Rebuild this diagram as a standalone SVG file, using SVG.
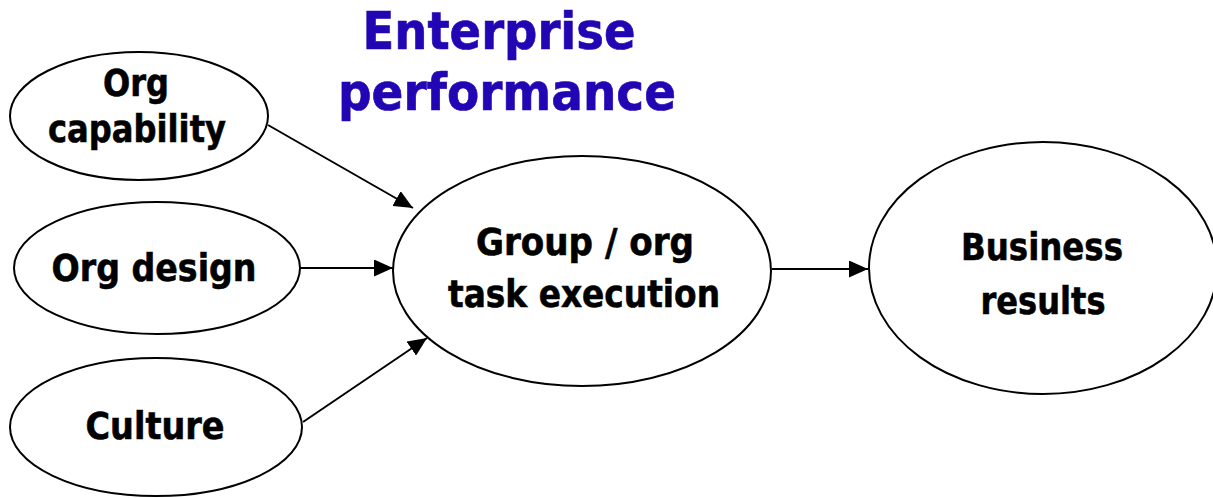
<svg xmlns="http://www.w3.org/2000/svg" width="1213" height="498" viewBox="0 0 1213 498">
<style>
.node ellipse{fill:#fff;stroke:#000;stroke-width:2}
.lbl{font-family:"DejaVu Sans","Liberation Sans",sans-serif;font-weight:bold;font-size:37px;fill:#000;stroke:#000;stroke-width:0.6;text-anchor:middle}
.title{font-family:"DejaVu Sans","Liberation Sans",sans-serif;font-weight:bold;font-size:52px;fill:#2206B4;stroke:#2206B4;stroke-width:0.7;text-anchor:middle}
.edge{stroke:#000;stroke-width:2;fill:none;marker-end:url(#arr)}
</style>
<defs>
<marker id="arr" markerUnits="userSpaceOnUse" markerWidth="19" markerHeight="17" refX="19" refY="8.5" orient="auto">
<path d="M0,0 L19,8.5 L0,17 z" fill="#000"/>
</marker>
</defs>
<rect width="1213" height="498" fill="#fff"/>
<g id="title">
<text class="title" x="499" y="49" textLength="273" lengthAdjust="spacingAndGlyphs">Enterprise</text>
<text class="title" x="507" y="110" textLength="338" lengthAdjust="spacingAndGlyphs">performance</text>
</g>
<g id="edges">
<line class="edge" x1="268" y1="125" x2="413" y2="208"/>
<line class="edge" x1="300" y1="268" x2="393" y2="268"/>
<line class="edge" x1="303" y1="422" x2="427" y2="338"/>
<line class="edge" x1="772" y1="269" x2="868" y2="269"/>
</g>
<g id="org-capability" class="node">
<ellipse cx="139" cy="116" rx="129" ry="64"/>
<text class="lbl" x="136" y="96" textLength="66" lengthAdjust="spacingAndGlyphs">Org</text>
<text class="lbl" x="137" y="142" textLength="178" lengthAdjust="spacingAndGlyphs">capability</text>
</g>
<g id="org-design" class="node">
<ellipse cx="157" cy="268" rx="143" ry="66"/>
<text class="lbl" x="154" y="281" textLength="205" lengthAdjust="spacingAndGlyphs">Org design</text>
</g>
<g id="culture" class="node">
<ellipse cx="156" cy="427" rx="146" ry="69"/>
<text class="lbl" x="155" y="439" textLength="139" lengthAdjust="spacingAndGlyphs">Culture</text>
</g>
<g id="group-task" class="node">
<ellipse cx="582" cy="271" rx="189" ry="115"/>
<text class="lbl" x="585" y="255" textLength="218" lengthAdjust="spacingAndGlyphs">Group / org</text>
<text class="lbl" x="584" y="307" textLength="272" lengthAdjust="spacingAndGlyphs">task execution</text>
</g>
<g id="business-results" class="node">
<ellipse cx="1043" cy="268" rx="174" ry="126"/>
<text class="lbl" x="1042" y="260" textLength="162" lengthAdjust="spacingAndGlyphs">Business</text>
<text class="lbl" x="1043" y="314" textLength="125" lengthAdjust="spacingAndGlyphs">results</text>
</g>
</svg>
